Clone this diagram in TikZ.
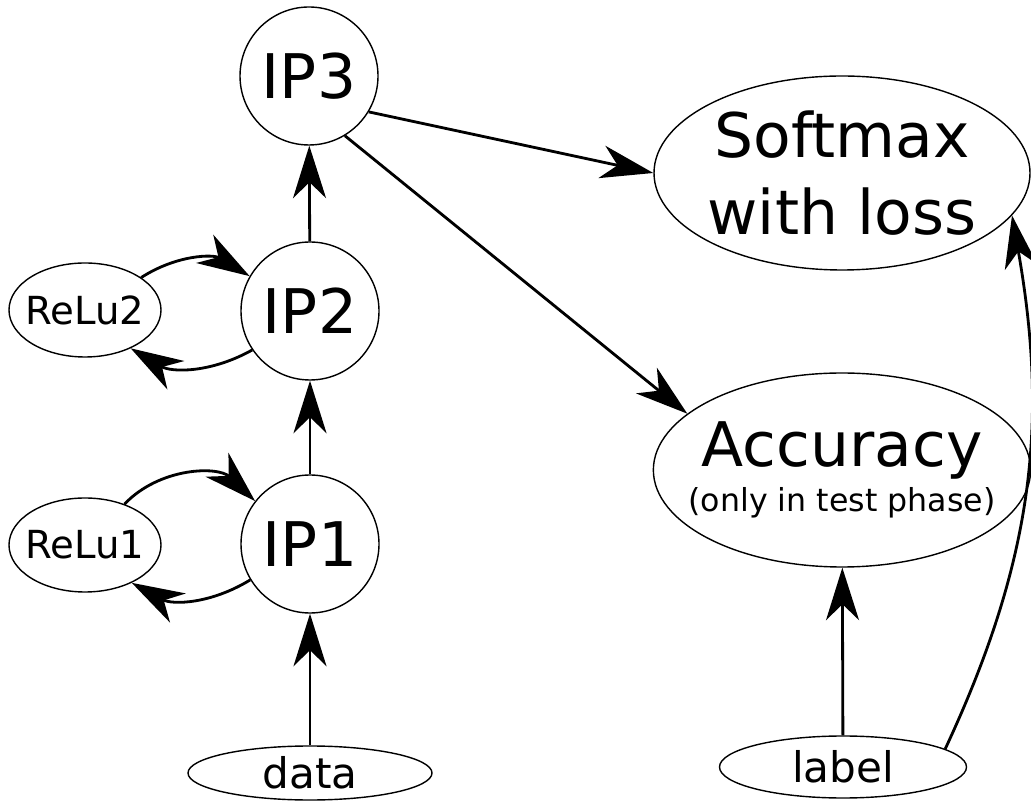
\documentclass[tikz,border=0pt]{standalone}
\usepackage{fontspec}
\setmainfont{DejaVu Sans}
\usetikzlibrary{arrows.meta, shapes.geometric}

\begin{document}
\begin{tikzpicture}[
    layer/.style={draw, circle, line width=0.8pt, inner sep=0pt, minimum size=2.76cm,
                  font=\fontsize{35}{44}\selectfont},
    blob/.style={draw, ellipse, line width=0.8pt, inner sep=0pt, inner xsep=-0.4cm, align=center},
    arr/.style={-{Stealth[length=1.05cm, width=0.66cm, inset=0.32cm]}, line width=1.6pt}
  ]
  \useasboundingbox (0,0) rectangle (20.62,16.14);

  % network column
  \node[blob, minimum width=4.88cm, minimum height=1.08cm, font=\fontsize{24}{29}\selectfont] (data) at (6.2,0.68) {data};
  \node[layer] (ip1) at (6.2,5.26) {IP1};
  \node[layer] (ip2) at (6.2,9.92) {IP2};
  \node[layer] (ip3) at (6.18,14.62) {IP3};
  \node[blob, minimum width=3.04cm, minimum height=1.88cm, font=\fontsize{22}{26}\selectfont] (relu1) at (1.7,5.24) {ReLu1};
  \node[blob, minimum width=3.04cm, minimum height=1.88cm, font=\fontsize{22}{26}\selectfont] (relu2) at (1.7,9.94) {ReLu2};

  % output side
  \node[blob, minimum width=7.52cm, minimum height=3.88cm, font=\fontsize{35}{44}\selectfont] (soft) at (16.84,12.68) {Softmax\\with loss};
  \node[blob, minimum width=7.52cm, minimum height=3.88cm, font=\fontsize{35}{44}\selectfont] (acc) at (16.84,6.74)
    {Accuracy\\[-18pt]{\fontsize{18}{22}\selectfont (only in test phase)}};
  \node[blob, minimum width=4.94cm, minimum height=1.24cm, font=\fontsize{24}{29}\selectfont] (label) at (16.86,0.8) {label};

  \draw[arr] (data) -- (ip1);
  \draw[arr] (ip1) -- (ip2);
  \draw[arr] (ip2) -- (ip3);
  \draw[arr] (relu1.46) to[bend left=45] (ip1.142);
  \draw[arr] (ip1.211) to[bend left=30] (relu1.-39);
  \draw[arr] (relu2.30) to[bend left=32] (ip2.150);
  \draw[arr] (ip2.214) to[bend left=30] (relu2.-40);
  \draw[arr] (ip3.-31) -- (soft.west);
  \draw[arr] (ip3.-59) -- (acc.160);
  \draw[arr] (label) -- (acc);
  \draw[arr] (label.10) to[out=65, in=-80] (soft.-14);
\end{tikzpicture}
\end{document}
